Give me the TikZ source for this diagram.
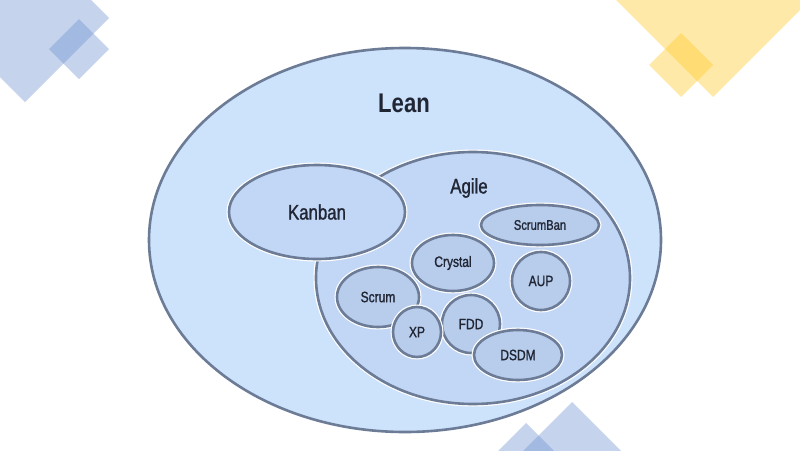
\documentclass[tikz,border=0pt]{standalone}
\usepackage{fontspec}
\setmainfont{Liberation Sans}[FakeStretch=0.82]
\newfontfamily\medfont{Liberation Sans}[FakeStretch=0.8,FakeBold=1.2]
\usetikzlibrary{shapes.geometric}
\definecolor{decoblue}{RGB}{110,145,208}
\definecolor{decoyellow}{RGB}{255,200,38}
\definecolor{leanfill}{RGB}{205,226,251}
\definecolor{agilefill}{RGB}{194,214,245}
\definecolor{innerfill}{RGB}{184,204,236}
\definecolor{rimcol}{RGB}{108,124,150}
\definecolor{txtcol}{RGB}{32,38,52}
\tikzset{
  oval/.style={ellipse, draw=rimcol, line width=2.6pt, inner sep=0pt, text=txtcol},
  halo/.style={ellipse, draw=white, line width=5pt, inner sep=0pt},
  smalltxt/.style={text=txtcol, font=\medfont\fontsize{15}{15}\selectfont},
}
\newcommand{\ovalnode}[6]{% name, x, y, rx, ry, fill
  \node[halo, minimum width=#4*2pt, minimum height=#5*2pt] at (#2,#3) {};
  \node[oval, fill=#6, minimum width=#4*2pt, minimum height=#5*2pt] (#1) at (#2,#3) {};
}
\begin{document}
\begin{tikzpicture}[x=1pt,y=-1pt]
\useasboundingbox (0,0) rectangle (800,450);
% decorations
\begin{scope}[fill opacity=0.4]
\fill[decoblue] (25,-66) -- (109,18) -- (25,102) -- (-59,18) -- cycle;
\fill[decoblue] (79,19) -- (109,49) -- (79,79) -- (49,49) -- cycle;
\fill[decoyellow] (713,-103) -- (813,-3) -- (713,97) -- (613,-3) -- cycle;
\fill[decoyellow] (681,33) -- (713,65) -- (681,97) -- (649,65) -- cycle;
\fill[decoblue] (572,402) -- (652,482) -- (572,562) -- (492,482) -- cycle;
\fill[decoblue] (526,423) -- (566,463) -- (526,503) -- (486,463) -- cycle;
\end{scope}
% ellipses
\ovalnode{lean}{405}{240}{256}{192}{leanfill}
\ovalnode{agile}{473}{278}{157}{126}{agilefill}
\ovalnode{kanban}{317}{212}{88}{47}{agilefill}
\ovalnode{scrumban}{540}{225}{59}{20}{innerfill}
\ovalnode{crystal}{453}{263}{41}{28}{innerfill}
\ovalnode{aup}{541}{281}{29}{29}{innerfill}
\ovalnode{scrum}{378}{297}{41}{30}{innerfill}
\ovalnode{fdd}{471}{324}{29}{29}{innerfill}
\ovalnode{xp}{417}{332}{24}{25}{innerfill}
\ovalnode{dsdm}{518}{355}{44}{25}{innerfill}
% labels
\node[text=txtcol, font=\fontsize{27}{27}\selectfont\bfseries] (leantxt) at (404,103) {Lean};
\node[text=txtcol, font=\medfont\fontsize{21}{21}\selectfont] (agiletxt) at (469,188) {Agile};
\node[text=txtcol, font=\medfont\fontsize{21}{21}\selectfont] at (kanban) {Kanban};
\node[text=txtcol, font=\medfont\fontsize{14}{14}\selectfont] at (scrumban) {ScrumBan};
\node[smalltxt] at (crystal) {Crystal};
\node[smalltxt] at (aup) {AUP};
\node[smalltxt] at (scrum) {Scrum};
\node[smalltxt] at (fdd) {FDD};
\node[smalltxt] at (xp) {XP};
\node[smalltxt] at (dsdm) {DSDM};
\end{tikzpicture}
\end{document}
